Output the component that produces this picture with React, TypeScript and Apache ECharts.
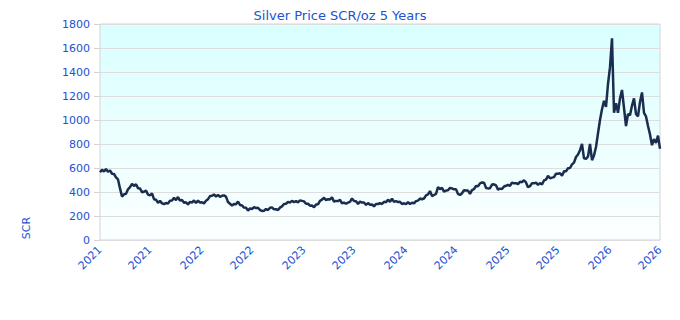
import React, { useEffect, useRef } from "react";
import * as echarts from "echarts";

const chartTitle = "Silver Price SCR/oz 5 Years";
const yAxisName = "SCR";
const xTickLabels = ["2021", "2021", "2022", "2022", "2023", "2023", "2024", "2024", "2025", "2025", "2026", "2026"];

// Silver price in SCR per troy ounce, sampled roughly evenly over the period
const prices = [
  565, 585, 570, 592, 568, 580, 552, 550, 522, 505,
  430, 362, 380, 385, 422, 440, 468, 450, 465, 432,
  430, 398, 402, 412, 378, 372, 388, 340, 336, 310,
  326, 305, 300, 308, 305, 328, 330, 352, 332, 358,
  328, 334, 310, 314, 296, 318, 312, 330, 308, 328,
  312, 315, 305, 328, 340, 366, 368, 380, 362, 376,
  360, 368, 372, 362, 316, 302, 288, 300, 298, 320,
  292, 288, 270, 268, 245, 264, 258, 274, 266, 268,
  250, 242, 244, 258, 250, 268, 272, 256, 256, 250,
  270, 280, 300, 302, 318, 312, 326, 316, 324, 314,
  330, 326, 322, 302, 302, 286, 288, 272, 296, 298,
  326, 336, 352, 332, 340, 338, 356, 320, 326, 324,
  334, 306, 312, 302, 312, 318, 346, 324, 322, 300,
  320, 312, 312, 292, 308, 294, 296, 280, 300, 300,
  308, 300, 318, 314, 336, 318, 344, 318, 324, 316,
  318, 300, 306, 298, 316, 300, 310, 306, 324, 328,
  346, 340, 346, 372, 380, 408, 366, 375, 384, 440,
  424, 434, 404, 412, 414, 434, 430, 422, 424, 384,
  375, 390, 414, 412, 412, 384, 416, 424, 450, 448,
  472, 480, 478, 434, 430, 432, 462, 464, 456, 420,
  428, 424, 446, 452, 460, 452, 478, 472, 474, 466,
  486, 482, 498, 480, 440, 448, 474, 472, 478, 460,
  474, 464, 496, 504, 534, 514, 520, 524, 552, 552,
  556, 536, 572, 572, 598, 600, 630, 645, 692, 712,
  748, 800, 680, 676, 696, 800, 665, 705, 775, 890,
  1000, 1090, 1160, 1110, 1300, 1440, 1680, 1060, 1140, 1060,
  1180, 1250, 1100, 950, 1050, 1040, 1120, 1180, 1050, 1030,
  1150, 1230, 1060, 1030, 950, 880, 790, 840, 810, 870,
  760,
];

const blue = "#2152d0";
const font = "DejaVu Sans";

export default function App() {
  const ref = useRef<HTMLDivElement>(null);
  useEffect(() => {
    if (!ref.current) return;
    const chart = echarts.init(ref.current, undefined, { renderer: "svg" });
    const n = prices.length;
    const labelIdx = xTickLabels.map((_, k) => Math.round((k * (n - 1)) / (xTickLabels.length - 1)));
    const cats = prices.map((_, i) => String(i));
    chart.setOption({
      animation: false,
      title: {
        text: chartTitle,
        left: "center",
        top: 4,
        textStyle: { color: blue, fontSize: 13, fontWeight: "normal", fontFamily: font },
      },
      grid: {
        left: 100,
        right: 20,
        top: 24,
        bottom: 80,
        show: true,
        borderColor: "#d4d4d4",
        borderWidth: 1,
        backgroundColor: new echarts.graphic.LinearGradient(0, 0, 0, 1, [
          { offset: 0, color: "#d9ffff" },
          { offset: 1, color: "#fcffff" },
        ]),
      },
      xAxis: {
        type: "category",
        data: cats,
        boundaryGap: false,
        axisLine: { show: false },
        axisTick: { show: false },
        splitLine: { show: false },
        axisLabel: {
          rotate: 45,
          color: blue,
          fontSize: 11,
          fontFamily: font,
          margin: 8,
          interval: (idx: number) => labelIdx.includes(idx),
          formatter: (_v: string, idx: number) => xTickLabels[labelIdx.indexOf(idx)] ?? "",
        },
      },
      yAxis: {
        type: "value",
        min: 0,
        max: 1800,
        interval: 200,
        axisLine: { show: false },
        axisTick: { show: true, length: 6, lineStyle: { color: "#d4d4d4" } },
        splitLine: { show: true, lineStyle: { color: "#dddddd" } },
        axisLabel: {
          color: blue,
          fontSize: 11,
          fontFamily: font,
          margin: 10,
          formatter: (v: number) => String(v),
        },
      },
      graphic: [
        {
          type: "text",
          x: 26,
          y: 228,
          rotation: Math.PI / 2,
          style: {
            text: yAxisName,
            fill: blue,
            fontSize: 11,
            fontFamily: font,
            align: "center",
            verticalAlign: "middle",
          },
        },
      ],
      series: [
        {
          type: "line",
          data: prices,
          symbol: "none",
          lineStyle: { color: "#1a2d4e", width: 2.5 },
        },
      ],
    });
    return () => chart.dispose();
  }, []);
  return <div ref={ref} style={{ width: 680, height: 320, position: "absolute", left: 0, top: 0 }} />;
}
